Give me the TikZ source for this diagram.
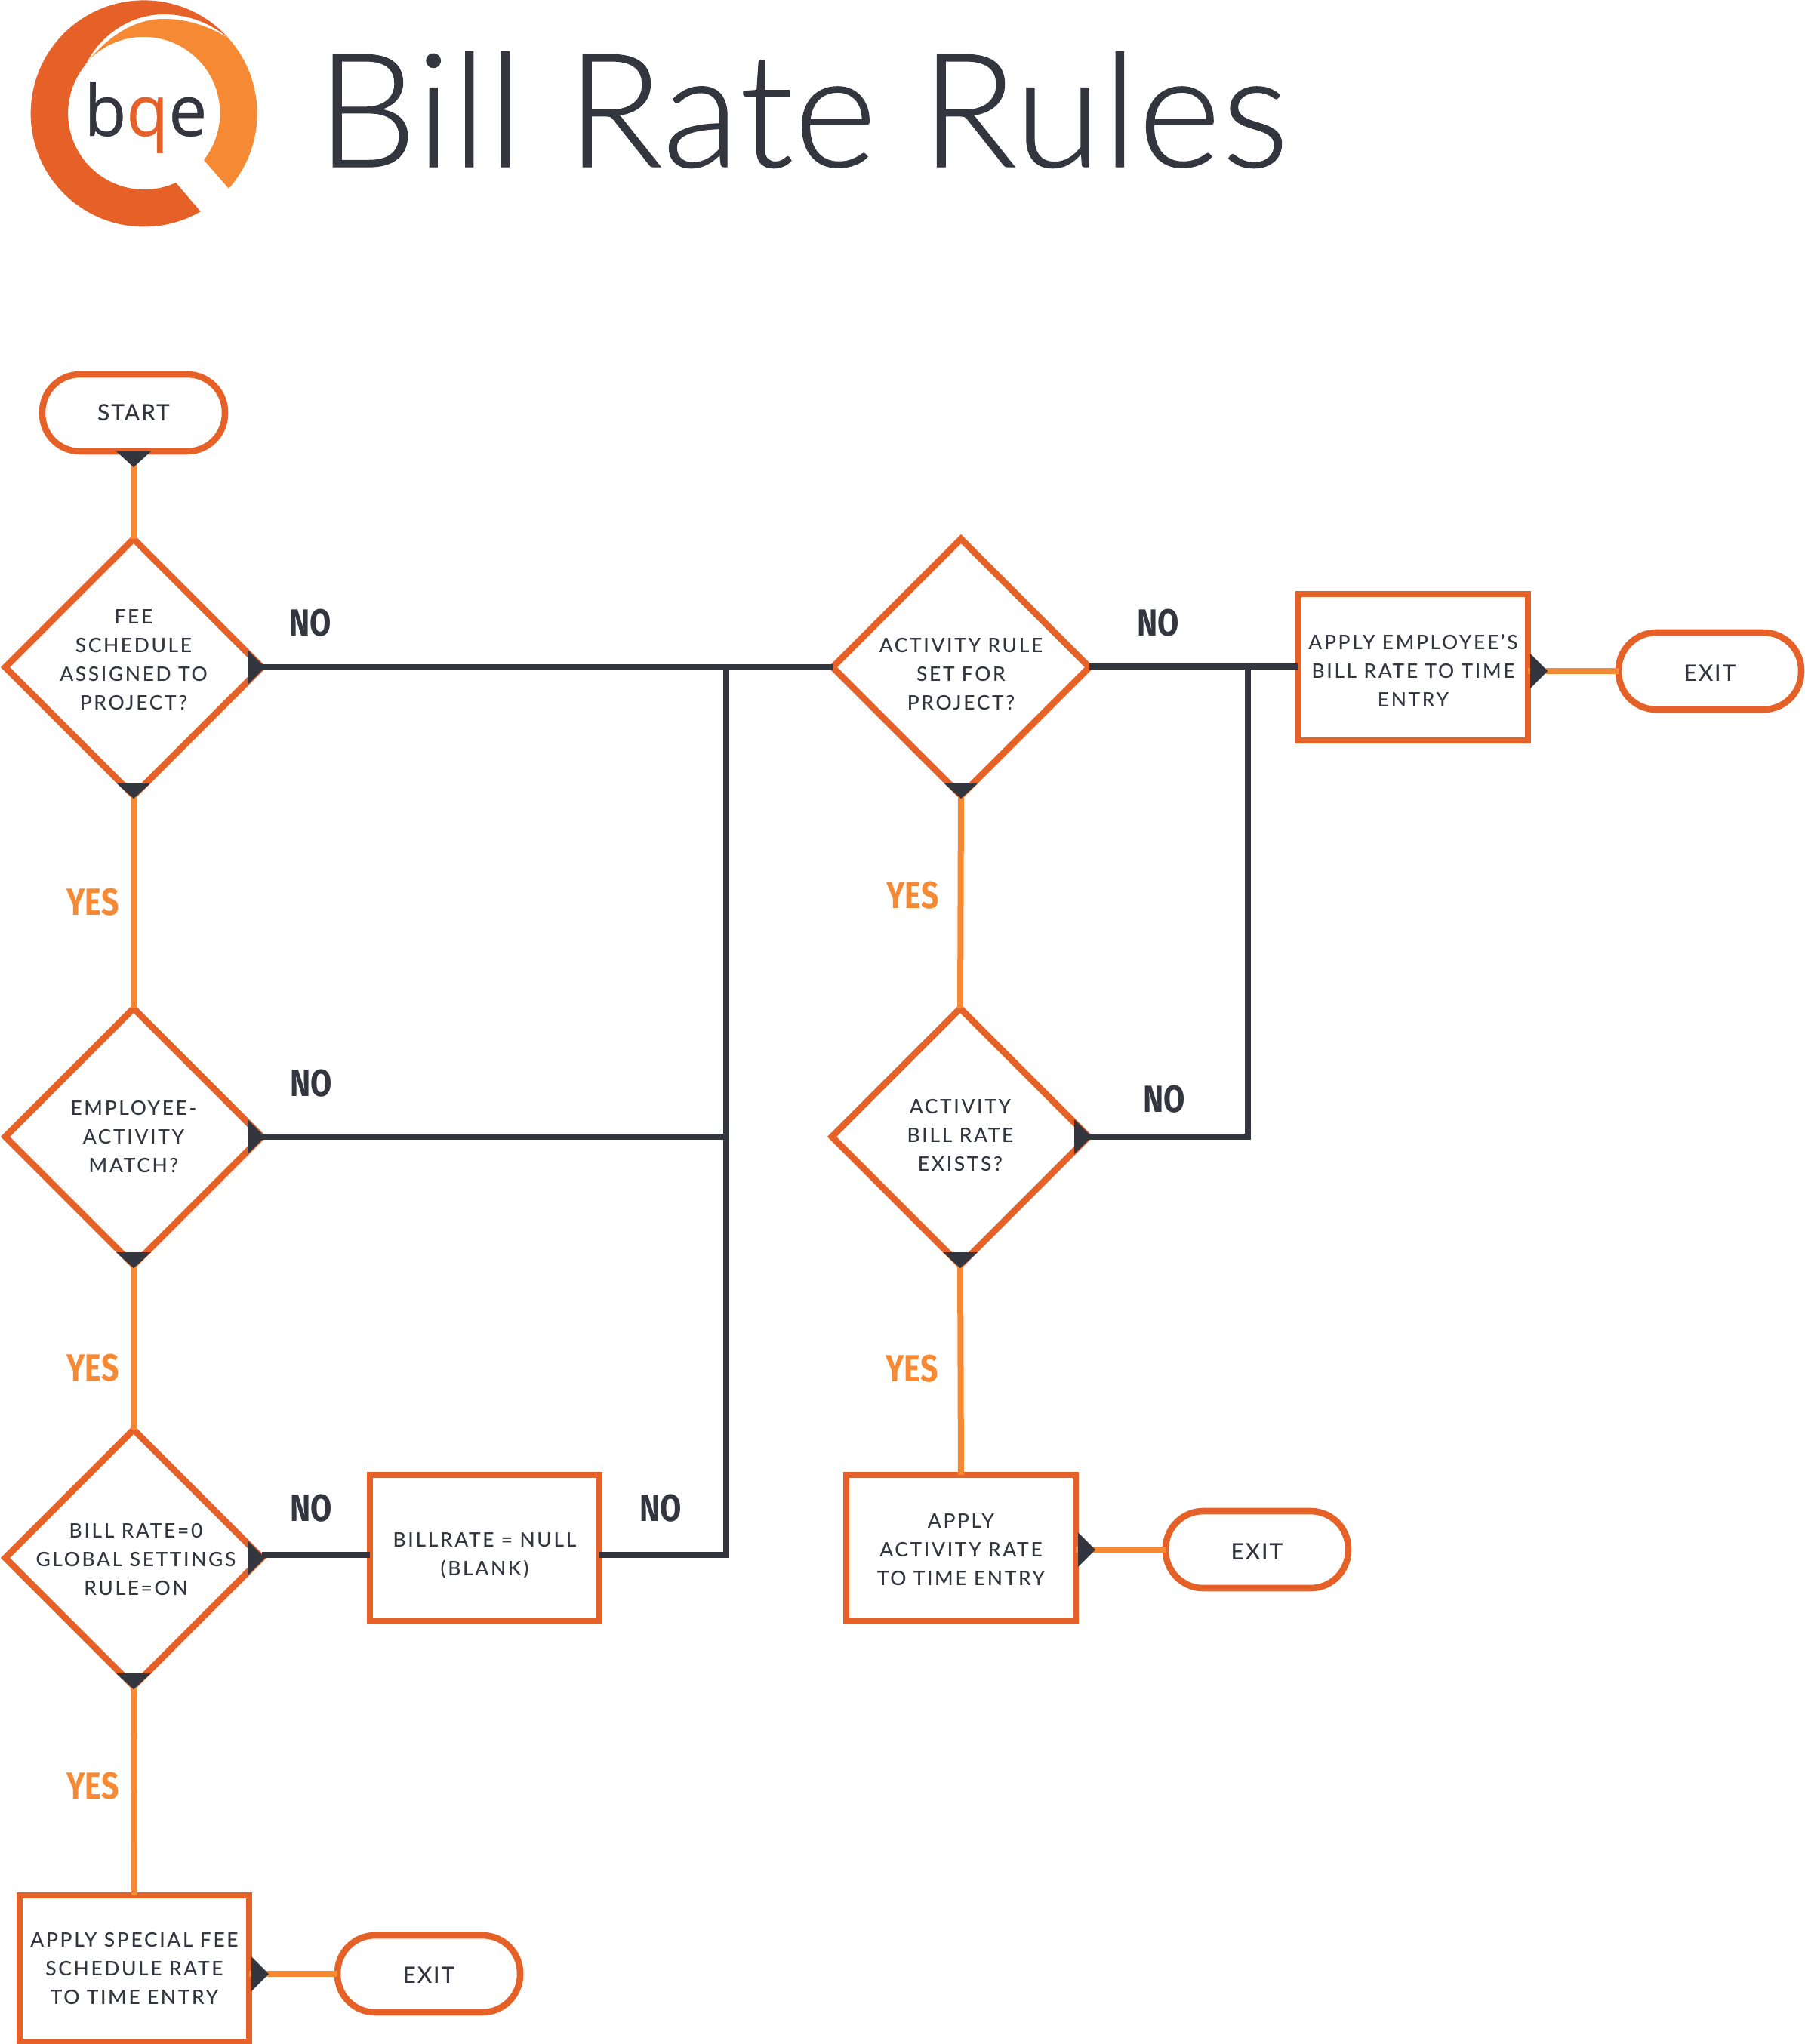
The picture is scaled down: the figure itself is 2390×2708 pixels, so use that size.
\documentclass[tikz,border=0pt]{standalone}
\usepackage{fontspec}
\usepackage{graphicx}
\usetikzlibrary{shapes.geometric}
\setmainfont{Lato}
\newfontfamily\bodyfont[LetterSpace=10]{Lato Medium}
\newfontfamily\exitfont[LetterSpace=6]{Lato Medium}
\newfontfamily\titlefont[LetterSpace=0.5,FakeBold=0.6]{Lato Light}
\newfontfamily\logofont[FakeBold=0.4]{Open Sans}
\newfontfamily\lblfont[FakeStretch=0.82,BoldFont={Fira Sans Bold}]{Fira Sans}
\definecolor{orA}{HTML}{E56127}
\definecolor{orB}{HTML}{F68934}
\definecolor{dk}{HTML}{33363F}
\tikzset{
  base/.style={draw=orA,line width=4.3pt,fill=white,inner sep=0pt,outer sep=0pt},
  dia/.style={base,diamond,aspect=1,minimum width=170pt,minimum height=170pt},
  boxn/.style={base,rectangle,minimum width=152pt,minimum height=97pt},
  pill/.style={base,rectangle,rounded corners=25pt,minimum width=121pt,minimum height=51pt,font=\exitfont\fontsize{15}{19}\selectfont,text=dk},
  lab/.style={font=\bodyfont\fontsize{13.2}{19}\selectfont,text=dk,align=center,inner sep=0pt},
  cy/.style={draw=orB,line width=4pt},
  cn/.style={draw=dk,line width=4.2pt},
  nolab/.style={font=\lblfont\bfseries\fontsize{25}{25}\selectfont,text=dk,inner sep=0pt},
  yeslab/.style={font=\lblfont\bfseries\fontsize{25}{25}\selectfont,text=orB,inner sep=0pt},
}
\newcommand{\tridown}[1]{\fill[dk] (#1) ++(-23,-21) -- ++(46,0) -- ++(-23,21) -- cycle;}
\newcommand{\triright}[1]{\fill[dk] (#1) ++(-23,-23) -- ++(23,23) -- ++(-23,23) -- cycle;}
\begin{document}
\begin{tikzpicture}[x=0.5pt,y=-0.5pt]
\useasboundingbox (0,0) rectangle (2390,2708);
% logo
\begin{scope}[shift={(191,150)},x=0.5pt,y=0.5pt]
  \fill[orA] (112,99) arc (41.5:300:75pt) -- (42,-92) arc (294.5:140.6:50.5pt)
    .. controls (-58,104) and (-18,131) .. (26,131)
    .. controls (60,131) and (90,118) .. (112,99) -- cycle;
  \fill[orB] (-78,64) .. controls (-55,95) and (-18,125) .. (26,125)
    .. controls (60,125) and (90,113) .. (112,99)
    arc (41.5:-41.5:75pt) -- (79,-62) arc (-38:140.6:50.5pt) -- cycle;
\end{scope}
\node[anchor=base,inner sep=0pt,font=\logofont\fontsize{47}{47}\selectfont] (logo) at (193,180)
  {\scalebox{.97}[1]{\textcolor{dk}{b}\textcolor{orA}{q}\textcolor{dk}{e}}};
\node[anchor=base west,inner sep=0pt,text=dk,font=\titlefont\fontsize{105}{105}\selectfont] (title) at (419,221) {Bill Rate Rules};
% shapes
\node[pill] (start) at (177,547) {START};
\node[dia,label={[lab,yshift=5pt]center:FEE\\SCHEDULE\\ASSIGNED TO\\PROJECT?}] (d1) at (177,884) {};
\node[dia,label={[lab]center:EMPLOYEE-\\ACTIVITY\\MATCH?}] (d2) at (177,1506) {};
\node[dia,label={[lab,xshift=1.5pt,yshift=-1pt]center:BILL RATE=0\\GLOBAL SETTINGS\\RULE=ON}] (d3) at (177,2064) {};
\node[dia,label={[lab,yshift=-4.5pt]center:ACTIVITY RULE\\SET FOR\\PROJECT?}] (d4) at (1273,884) {};
\node[dia,label={[lab,yshift=1pt]center:ACTIVITY\\BILL RATE\\EXISTS?}] (d5) at (1272,1506) {};
\node[boxn,label={[lab]center:APPLY SPECIAL FEE\\SCHEDULE RATE\\TO TIME ENTRY}] (bs) at (178,2608) {};
\node[boxn,label={[lab,yshift=-5pt]center:BILLRATE = NULL\\(BLANK)}] (bn) at (642,2051) {};
\node[boxn,label={[lab,yshift=-1pt]center:APPLY\\ACTIVITY RATE\\TO TIME ENTRY}] (ba) at (1273,2051) {};
\node[boxn,label={[lab,yshift=-2pt]center:APPLY EMPLOYEE’S\\BILL RATE TO TIME\\ENTRY}] (be) at (1872,884) {};
\node[pill,text height=12.5pt] (x1) at (568,2615) {EXIT};
\node[pill,text height=13.5pt] (x2) at (1665,2053) {EXIT};
\node[pill,text height=13.5pt] (x3) at (2265,889) {EXIT};
% junction points
\coordinate (j1) at (962,884);
\coordinate (j2) at (1653,883);
\coordinate (j3) at (642,2060);
\coordinate (a1) at (bs.east |- x1.west);
\coordinate (a2) at (ba.east |- x2.west);
\coordinate (a3) at (be.east |- x3.west);
% yes connectors
\draw[cy] (start.south) -- (d1.north);
\draw[cy] (d1.south) -- (d2.north);
\draw[cy] (d2.south) -- (d3.north);
\draw[cy] (d3.south) -- (bs.north);
\draw[cy] (d4.south) -- (d5.north);
\draw[cy] (d5.south) -- (ba.north);
\draw[cy] (a1) -- (x1.west);
\draw[cy] (a2) -- (x2.west);
\draw[cy] (a3) -- (x3.west);
% no connectors
\draw[cn] (d1.east) -- (d4.west);
\draw[cn] (d2.east) -- (d2.east -| j1);
\draw[cn] (d3.east |- j3) -- (bn.west |- j3);
\draw[cn,line join=miter] (bn.east |- j3) -- (j1 |- j3) -- (j1);
\draw[cn] (d4.east |- j2) -- (be.west |- j2);
\draw[cn] (d5.east) -- (d5.east -| j2) -- (j2);
% arrowheads
\tridown{[yshift=-10.5pt]start.south}
\tridown{[yshift=-2pt]d1.south}
\tridown{[yshift=-2pt]d2.south}
\tridown{[yshift=-2pt]d3.south}
\tridown{[yshift=-2pt]d4.south}
\tridown{[yshift=-2pt]d5.south}
\triright{[xshift=2pt]d1.east}
\triright{[xshift=2pt]d2.east}
\triright{[xshift=2pt]d3.east}
\triright{[xshift=2pt]d5.east}
\triright{[xshift=13pt]a1}
\triright{[xshift=13pt]a2}
\triright{[xshift=13pt]a3}
% labels
\node[nolab] (n1) at (411,825) {NO};
\node[nolab] (n2) at (412,1435) {NO};
\node[nolab] (n3) at (412,1998) {NO};
\node[nolab] (n4) at (875,1998) {NO};
\node[nolab] (n5) at (1534,825) {NO};
\node[nolab] (n6) at (1542,1456) {NO};
\node[yeslab] (y1) at (123,1195) {YES};
\node[yeslab] (y2) at (123,1812) {YES};
\node[yeslab] (y3) at (123,2366) {YES};
\node[yeslab] (y4) at (1209,1186) {YES};
\node[yeslab] (y5) at (1208,1813) {YES};
\end{tikzpicture}
\end{document}
